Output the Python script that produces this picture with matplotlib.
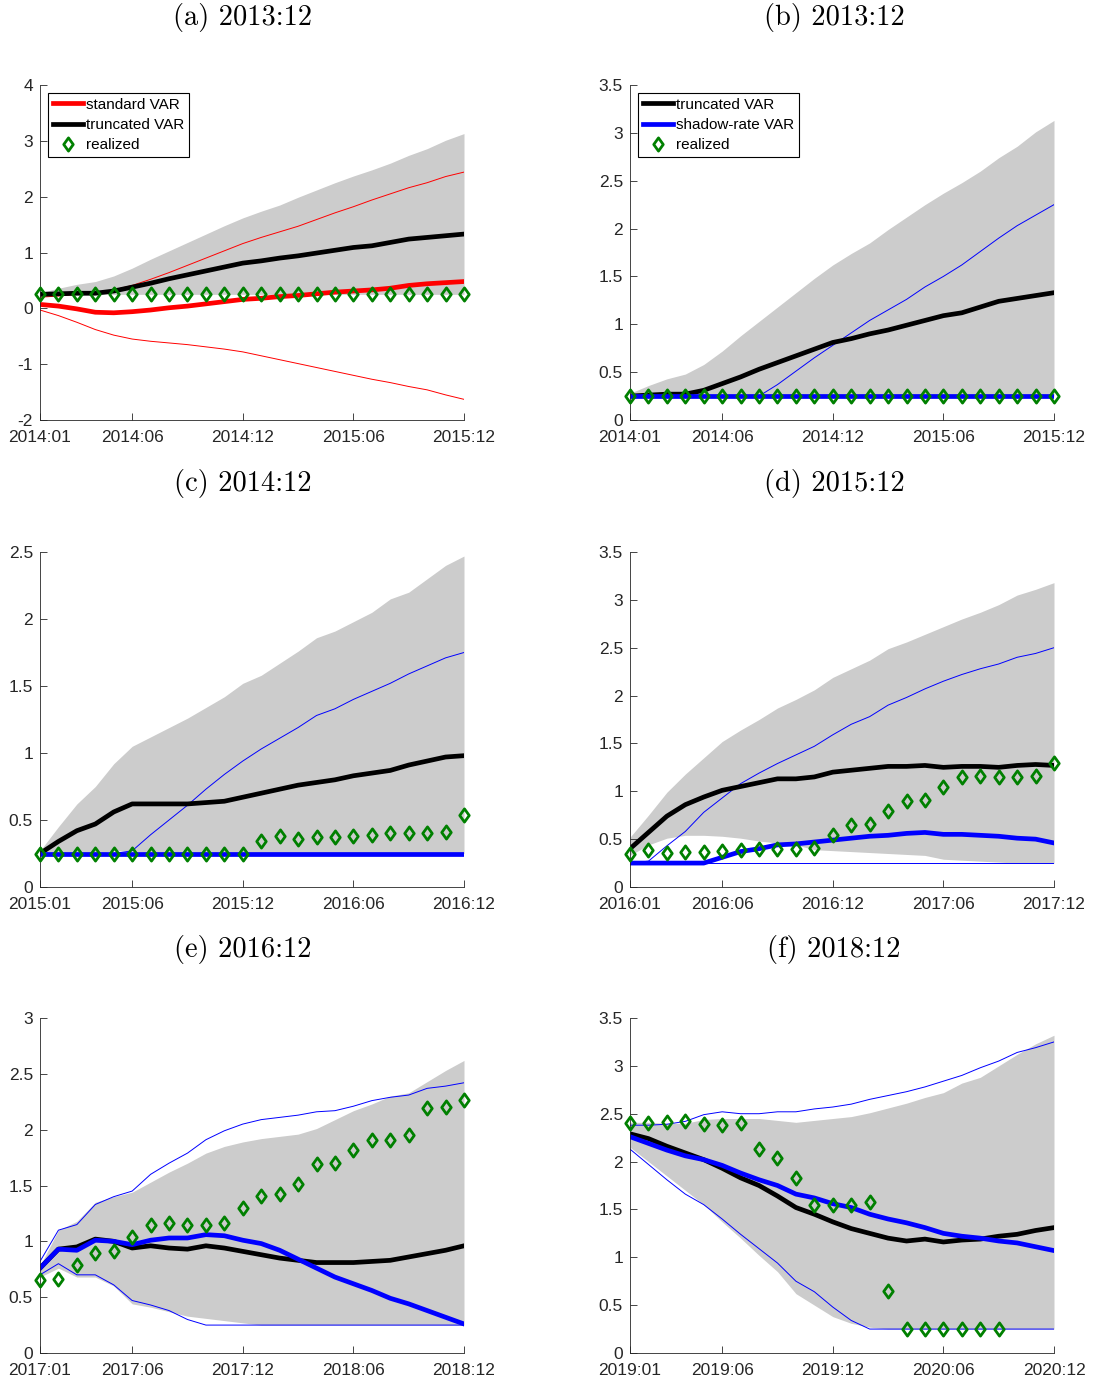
import numpy as np
import matplotlib
matplotlib.use("Agg")
import matplotlib.pyplot as plt
from matplotlib.path import Path
from matplotlib.ticker import FormatStrFormatter

plt.rcParams['font.family'] = ['Liberation Sans', 'DejaVu Sans']
plt.rcParams['axes.unicode_minus'] = False

# ---- data (24 monthly forecast steps per panel) ----
a_xlab = ["2014:01", "2014:06", "2014:12", "2015:06", "2015:12"]
c_xlab = ["2015:01", "2015:06", "2015:12", "2016:06", "2016:12"]
d_xlab = ["2016:01", "2016:06", "2016:12", "2017:06", "2017:12"]
e_xlab = ["2017:01", "2017:06", "2017:12", "2018:06", "2018:12"]
f_xlab = ["2019:01", "2019:06", "2019:12", "2020:06", "2020:12"]
tick_idx = [0, 5, 11, 17, 23]

# origin 2013:12 (panels a and b)
a_band_hi = [0.28, 0.36, 0.43, 0.48, 0.58, 0.72, 0.88, 1.03, 1.18, 1.33, 1.48, 1.62,
             1.74, 1.85, 1.99, 2.12, 2.25, 2.37, 2.48, 2.60, 2.74, 2.86, 3.01, 3.13]
a_band_lo = [0.25, 0.25, 0.25, 0.25, 0.25, 0.25, 0.25, 0.25, 0.25, 0.25, 0.25, 0.25,
             0.25, 0.25, 0.25, 0.25, 0.25, 0.25, 0.25, 0.25, 0.25, 0.25, 0.25, 0.25]
a_trunc = [0.25, 0.26, 0.27, 0.27, 0.31, 0.38, 0.45, 0.53, 0.60, 0.67, 0.74, 0.81,
           0.85, 0.90, 0.94, 0.99, 1.04, 1.09, 1.12, 1.18, 1.24, 1.27, 1.30, 1.33]
a_std = [0.07, 0.04, -0.01, -0.07, -0.08, -0.06, -0.03, 0.01, 0.04, 0.08, 0.12, 0.16,
         0.18, 0.21, 0.23, 0.26, 0.29, 0.31, 0.33, 0.36, 0.41, 0.44, 0.46, 0.48]
a_std_hi = [0.20, 0.22, 0.25, 0.27, 0.33, 0.41, 0.52, 0.64, 0.77, 0.90, 1.03, 1.16,
            1.27, 1.37, 1.47, 1.59, 1.71, 1.82, 1.94, 2.05, 2.16, 2.25, 2.36, 2.44]
a_std_lo = [-0.03, -0.13, -0.25, -0.38, -0.48, -0.55, -0.59, -0.62, -0.65, -0.69, -0.73, -0.78,
            -0.85, -0.92, -0.99, -1.06, -1.13, -1.20, -1.27, -1.33, -1.40, -1.46, -1.55, -1.63]
a_real = [0.25, 0.25, 0.25, 0.25, 0.25, 0.25, 0.25, 0.25, 0.25, 0.25, 0.25, 0.25,
          0.25, 0.25, 0.25, 0.25, 0.25, 0.25, 0.25, 0.25, 0.25, 0.25, 0.25, 0.25]
b_shadow = [0.25, 0.25, 0.25, 0.25, 0.25, 0.25, 0.25, 0.25, 0.25, 0.25, 0.25, 0.25,
            0.25, 0.25, 0.25, 0.25, 0.25, 0.25, 0.25, 0.25, 0.25, 0.25, 0.25, 0.25]
b_shadow_hi = [0.25, 0.25, 0.25, 0.25, 0.25, 0.25, 0.25, 0.25, 0.37, 0.51, 0.65, 0.78,
               0.91, 1.04, 1.15, 1.26, 1.39, 1.50, 1.62, 1.76, 1.90, 2.03, 2.14, 2.25]
b_shadow_lo = [0.25, 0.25, 0.25, 0.25, 0.25, 0.25, 0.25, 0.25, 0.25, 0.25, 0.25, 0.25,
               0.25, 0.25, 0.25, 0.25, 0.25, 0.25, 0.25, 0.25, 0.25, 0.25, 0.25, 0.25]

# origin 2014:12
c_band_hi = [0.27, 0.45, 0.62, 0.75, 0.92, 1.05, 1.12, 1.19, 1.26, 1.34, 1.42, 1.52,
             1.58, 1.67, 1.76, 1.86, 1.91, 1.98, 2.05, 2.15, 2.20, 2.30, 2.40, 2.47]
c_band_lo = [0.25, 0.25, 0.25, 0.25, 0.27, 0.27, 0.25, 0.25, 0.25, 0.25, 0.25, 0.25,
             0.25, 0.25, 0.25, 0.25, 0.25, 0.25, 0.25, 0.25, 0.25, 0.25, 0.25, 0.25]
c_trunc = [0.25, 0.34, 0.42, 0.47, 0.56, 0.62, 0.62, 0.62, 0.62, 0.63, 0.64, 0.67,
           0.70, 0.73, 0.76, 0.78, 0.80, 0.83, 0.85, 0.87, 0.91, 0.94, 0.97, 0.98]
c_shadow = [0.25, 0.25, 0.25, 0.25, 0.25, 0.25, 0.25, 0.25, 0.25, 0.25, 0.25, 0.25,
            0.25, 0.25, 0.25, 0.25, 0.25, 0.25, 0.25, 0.25, 0.25, 0.25, 0.25, 0.25]
c_shadow_hi = [0.25, 0.25, 0.25, 0.25, 0.25, 0.27, 0.39, 0.50, 0.61, 0.73, 0.84, 0.94,
               1.03, 1.11, 1.19, 1.28, 1.33, 1.40, 1.46, 1.52, 1.59, 1.65, 1.71, 1.75]
c_shadow_lo = [0.25, 0.25, 0.25, 0.25, 0.25, 0.25, 0.25, 0.25, 0.25, 0.25, 0.25, 0.25,
               0.25, 0.25, 0.25, 0.25, 0.25, 0.25, 0.25, 0.25, 0.25, 0.25, 0.25, 0.25]
c_real = [0.25, 0.25, 0.25, 0.25, 0.25, 0.25, 0.25, 0.25, 0.25, 0.25, 0.25, 0.25,
          0.34, 0.38, 0.36, 0.37, 0.37, 0.38, 0.39, 0.40, 0.40, 0.40, 0.41, 0.54]

# origin 2015:12
d_band_hi = [0.52, 0.75, 0.99, 1.18, 1.35, 1.52, 1.64, 1.75, 1.87, 1.96, 2.06, 2.19,
             2.28, 2.37, 2.49, 2.56, 2.64, 2.72, 2.80, 2.87, 2.95, 3.05, 3.11, 3.18]
d_band_lo = [0.33, 0.44, 0.51, 0.54, 0.54, 0.53, 0.51, 0.48, 0.46, 0.44, 0.39, 0.38,
             0.37, 0.36, 0.35, 0.34, 0.33, 0.29, 0.28, 0.27, 0.26, 0.25, 0.25, 0.25]
d_trunc = [0.40, 0.57, 0.74, 0.86, 0.94, 1.01, 1.05, 1.09, 1.13, 1.13, 1.15, 1.20,
           1.22, 1.24, 1.26, 1.26, 1.27, 1.25, 1.26, 1.26, 1.25, 1.27, 1.28, 1.27]
d_shadow = [0.25, 0.25, 0.25, 0.25, 0.25, 0.31, 0.37, 0.40, 0.44, 0.45, 0.47, 0.49,
            0.51, 0.53, 0.54, 0.56, 0.57, 0.55, 0.55, 0.54, 0.53, 0.51, 0.50, 0.46]
d_shadow_hi = [0.25, 0.27, 0.43, 0.58, 0.78, 0.93, 1.08, 1.19, 1.29, 1.38, 1.47, 1.59,
               1.70, 1.78, 1.90, 1.98, 2.07, 2.15, 2.22, 2.28, 2.33, 2.40, 2.44, 2.50]
d_shadow_lo = [0.25, 0.25, 0.25, 0.25, 0.25, 0.25, 0.25, 0.25, 0.25, 0.25, 0.25, 0.25,
               0.25, 0.25, 0.25, 0.25, 0.25, 0.25, 0.25, 0.25, 0.25, 0.25, 0.25, 0.25]
d_real = [0.35, 0.39, 0.36, 0.37, 0.37, 0.38, 0.39, 0.40, 0.40, 0.40, 0.41, 0.54,
          0.65, 0.66, 0.79, 0.90, 0.91, 1.04, 1.15, 1.16, 1.15, 1.15, 1.16, 1.30]

# origin 2016:12
e_band_hi = [0.78, 1.10, 1.18, 1.35, 1.40, 1.44, 1.53, 1.62, 1.70, 1.79, 1.85, 1.89,
             1.92, 1.94, 1.96, 2.01, 2.09, 2.17, 2.23, 2.30, 2.33, 2.43, 2.53, 2.62]
e_band_lo = [0.68, 0.76, 0.68, 0.68, 0.60, 0.44, 0.41, 0.37, 0.33, 0.31, 0.29, 0.27,
             0.25, 0.25, 0.25, 0.25, 0.25, 0.25, 0.25, 0.25, 0.25, 0.25, 0.25, 0.25]
e_trunc = [0.76, 0.93, 0.95, 1.02, 1.00, 0.94, 0.96, 0.94, 0.93, 0.96, 0.94, 0.91,
           0.88, 0.85, 0.83, 0.81, 0.81, 0.81, 0.82, 0.83, 0.86, 0.89, 0.92, 0.96]
e_shadow = [0.76, 0.93, 0.92, 1.01, 1.00, 0.97, 1.01, 1.03, 1.03, 1.06, 1.05, 1.01,
            0.98, 0.92, 0.84, 0.76, 0.68, 0.62, 0.56, 0.49, 0.44, 0.38, 0.32, 0.26]
e_shadow_hi = [0.82, 1.10, 1.15, 1.33, 1.40, 1.45, 1.60, 1.70, 1.79, 1.91, 1.99, 2.05,
               2.09, 2.11, 2.13, 2.16, 2.17, 2.21, 2.26, 2.29, 2.31, 2.37, 2.39, 2.42]
e_shadow_lo = [0.70, 0.80, 0.70, 0.70, 0.61, 0.47, 0.43, 0.38, 0.30, 0.25, 0.25, 0.25,
               0.25, 0.25, 0.25, 0.25, 0.25, 0.25, 0.25, 0.25, 0.25, 0.25, 0.25, 0.25]
e_real = [0.65, 0.66, 0.79, 0.90, 0.91, 1.04, 1.15, 1.16, 1.15, 1.15, 1.16, 1.30,
          1.41, 1.42, 1.51, 1.69, 1.70, 1.82, 1.91, 1.91, 1.95, 2.19, 2.20, 2.27]

# origin 2018:12
f_band_hi = [2.41, 2.41, 2.40, 2.40, 2.44, 2.45, 2.45, 2.45, 2.43, 2.41, 2.43, 2.45,
             2.47, 2.51, 2.56, 2.61, 2.67, 2.72, 2.82, 2.88, 3.00, 3.12, 3.23, 3.32]
f_band_lo = [2.15, 2.00, 1.85, 1.70, 1.55, 1.37, 1.20, 1.02, 0.85, 0.62, 0.50, 0.38,
             0.31, 0.27, 0.25, 0.25, 0.25, 0.25, 0.25, 0.25, 0.25, 0.25, 0.25, 0.25]
f_trunc = [2.29, 2.24, 2.16, 2.09, 2.02, 1.93, 1.83, 1.75, 1.64, 1.52, 1.45, 1.37,
           1.30, 1.25, 1.20, 1.17, 1.19, 1.16, 1.18, 1.19, 1.22, 1.24, 1.28, 1.31]
f_shadow = [2.26, 2.19, 2.12, 2.06, 2.02, 1.96, 1.88, 1.81, 1.75, 1.66, 1.62, 1.56,
            1.52, 1.45, 1.40, 1.36, 1.31, 1.25, 1.22, 1.20, 1.17, 1.15, 1.11, 1.07]
f_shadow_hi = [2.38, 2.38, 2.39, 2.42, 2.49, 2.52, 2.50, 2.50, 2.52, 2.52, 2.55, 2.57,
               2.60, 2.65, 2.69, 2.73, 2.78, 2.84, 2.90, 2.98, 3.05, 3.14, 3.19, 3.25]
f_shadow_lo = [2.13, 1.97, 1.81, 1.66, 1.55, 1.40, 1.24, 1.09, 0.94, 0.75, 0.64, 0.48,
               0.34, 0.25, 0.25, 0.25, 0.25, 0.25, 0.25, 0.25, 0.25, 0.25, 0.25, 0.25]
f_real = [2.40, 2.40, 2.41, 2.42, 2.39, 2.38, 2.40, 2.13, 2.04, 1.83, 1.55, 1.55,
          1.55, 1.58, 0.65, 0.25, 0.25, 0.25, 0.25, 0.25, 0.25, np.nan, np.nan, np.nan]

titles = ["(a) 2013:12", "(b) 2013:12", "(c) 2014:12",
          "(d) 2015:12", "(e) 2016:12", "(f) 2018:12"]

# ---- styling ----
GRAY = '#cccccc'
AX = '#262626'
GREEN = '#008000'
diamond = Path([(0, 1), (0.72, 0), (0, -1), (-0.72, 0), (0, 1)],
               [Path.MOVETO, Path.LINETO, Path.LINETO, Path.LINETO, Path.CLOSEPOLY])

W, H = 1093, 1383
fig = plt.figure(figsize=(W / 100, H / 100), dpi=100)

col_left = [40, 630]
row_bottom = [420, 887, 1353]
ax_w, ax_h = 424, 335
title_x = [243, 834]
title_y = [18, 484, 950]


def make_ax(r, c):
    ax = fig.add_axes([col_left[c] / W, (H - row_bottom[r]) / H, ax_w / W, ax_h / H])
    for s in ['top', 'right']:
        ax.spines[s].set_visible(False)
    for s in ['left', 'bottom']:
        ax.spines[s].set_color(AX)
        ax.spines[s].set_linewidth(0.6)
    ax.tick_params(direction='in', length=5, width=0.6, color=AX,
                   labelcolor=AX, labelsize=12.5, pad=5)
    ax.tick_params(axis='x', pad=7)
    ax.set_xlim(0, 23)
    ax.set_xticks(tick_idx)
    ax.yaxis.set_major_formatter(FormatStrFormatter('%g'))
    fig.text(title_x[c] / W, 1 - title_y[r] / H, titles[r * 2 + c],
             family='cmr10', fontsize=20.5, ha='center', va='center')
    return ax


def draw(ax, xlab, ylim, ystep, band_lo, band_hi, trunc, shadow, sh_hi, sh_lo, real):
    x = np.arange(len(trunc))
    ax.fill_between(x, band_lo, band_hi, color=GRAY, lw=0)
    ax.plot(x, sh_hi, color='blue', lw=0.7)
    ax.plot(x, sh_lo, color='blue', lw=0.7)
    l1, = ax.plot(x, trunc, color='black', lw=3.4, label='truncated VAR')
    l2, = ax.plot(x, shadow, color='blue', lw=3.4, label='shadow-rate VAR')
    l3, = ax.plot(x, real, ls='none', marker=diamond, ms=9.5, mfc='none',
                  mec=GREEN, mew=2.0, clip_on=False, zorder=5, label='realized')
    ax.set_xticklabels(xlab)
    ax.set_ylim(*ylim)
    ax.set_yticks(np.arange(ylim[0], ylim[1] + 1e-9, ystep))
    return [l1, l2, l3]


def add_legend(ax, handles):
    ax.legend(handles=handles, loc='upper left', bbox_to_anchor=(0.019, 0.976),
              borderaxespad=0, fontsize=11, handlelength=2.0, handletextpad=0.2,
              labelspacing=0.42, borderpad=0.3, fancybox=False, framealpha=1,
              edgecolor='black').get_frame().set_linewidth(0.8)


# (a)
ax = make_ax(0, 0)
x = np.arange(len(a_trunc))
ax.fill_between(x, a_band_lo, a_band_hi, color=GRAY, lw=0)
ax.plot(x, a_std_hi, color='red', lw=0.7)
ax.plot(x, a_std_lo, color='red', lw=0.7)
la, = ax.plot(x, a_std, color='red', lw=3.4, label='standard VAR')
lb, = ax.plot(x, a_trunc, color='black', lw=3.4, label='truncated VAR')
lc, = ax.plot(x, a_real, ls='none', marker=diamond, ms=9.5, mfc='none',
              mec=GREEN, mew=2.0, clip_on=False, zorder=5, label='realized')
ax.set_xticklabels(a_xlab)
ax.set_ylim(-2, 4)
ax.set_yticks([-2, -1, 0, 1, 2, 3, 4])
add_legend(ax, [la, lb, lc])

# (b)
ax = make_ax(0, 1)
h = draw(ax, a_xlab, (0, 3.5), 0.5, a_band_lo, a_band_hi, a_trunc,
         b_shadow, b_shadow_hi, b_shadow_lo, a_real)
add_legend(ax, h)

# (c)
ax = make_ax(1, 0)
draw(ax, c_xlab, (0, 2.5), 0.5, c_band_lo, c_band_hi, c_trunc,
     c_shadow, c_shadow_hi, c_shadow_lo, c_real)

# (d)
ax = make_ax(1, 1)
draw(ax, d_xlab, (0, 3.5), 0.5, d_band_lo, d_band_hi, d_trunc,
     d_shadow, d_shadow_hi, d_shadow_lo, d_real)

# (e)
ax = make_ax(2, 0)
draw(ax, e_xlab, (0, 3), 0.5, e_band_lo, e_band_hi, e_trunc,
     e_shadow, e_shadow_hi, e_shadow_lo, e_real)

# (f)
ax = make_ax(2, 1)
draw(ax, f_xlab, (0, 3.5), 0.5, f_band_lo, f_band_hi, f_trunc,
     f_shadow, f_shadow_hi, f_shadow_lo, f_real)

fig.savefig('out.png', dpi=100)
